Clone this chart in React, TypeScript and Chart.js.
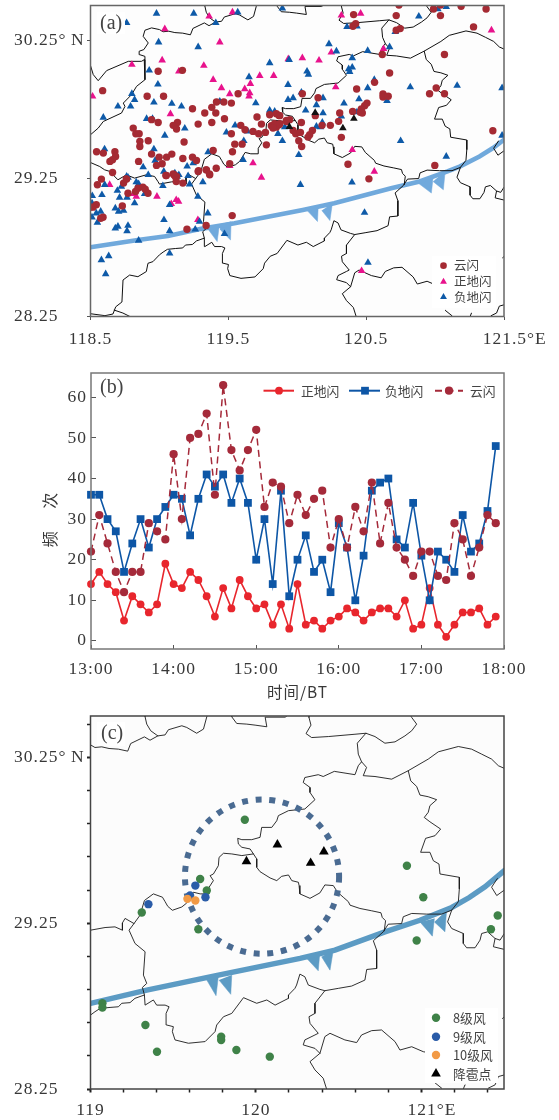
import React, { useEffect, useRef } from "react";
import { Chart, registerables } from "chart.js";
import { drawPoint } from "chart.js/helpers";

Chart.register(...registerables);

type P = number[];

// ---------- county / province boundaries (lon, lat) ----------
const borderNorthWest: P[] = [[118.5,30.065],[118.52,30.0],[118.556,29.956],[118.617,30.029],[118.774,30.096],[118.87,30.096],[118.89,30.108],[118.895,30.132],[118.858,30.144],[118.853,30.169],[118.887,30.181],[118.919,30.229],[118.882,30.277],[118.895,30.321],[118.943,30.338],[119.0,30.326],[119.027,30.31],[119.068,30.314],[119.112,30.304],[119.169,30.30],[119.225,30.288],[119.243,30.334],[119.326,30.374],[119.36,30.354],[119.407,30.38],[119.451,30.386],[119.471,30.417],[119.552,30.441],[119.582,30.431],[119.642,30.396],[119.683,30.421],[119.703,30.495],[119.71,30.51]];
const borderWestSpur: P[] = [[118.89,30.108],[118.895,29.963],[118.834,29.915],[118.798,29.855],[118.738,29.794],[118.75,29.77],[118.725,29.722],[118.593,29.661],[118.556,29.613],[118.5,29.565]];
const borderNorthSpur: P[] = [[119.33,30.51],[119.33,30.495],[119.34,30.451],[119.364,30.411],[119.407,30.38]];
const borderTopBay: P[] = [[119.85,30.51],[119.854,30.495],[119.884,30.455],[119.945,30.451],[119.995,30.445],[120.066,30.435],[120.056,30.493],[120.177,30.493],[120.2,30.51]];
const borderHangzhou: P[] = [[120.321,30.51],[120.321,30.491],[120.333,30.445],[120.303,30.394],[120.337,30.37],[120.438,30.376],[120.599,30.39],[120.665,30.396],[120.613,30.336],[120.619,30.27],[120.639,30.224],[120.619,30.2],[120.599,30.146],[120.474,30.166],[120.407,30.135],[120.377,30.146],[120.296,30.129],[120.286,30.099],[120.327,30.069],[120.327,30.039],[120.357,29.995],[120.296,29.939],[120.236,29.933],[120.197,29.929],[120.136,29.899],[120.126,29.868],[120.096,29.828],[120.035,29.828],[120.025,29.768],[119.975,29.754],[119.915,29.754],[119.89,29.762],[119.894,29.728],[119.915,29.708],[119.965,29.698],[119.985,29.668],[120.005,29.638],[120.005,29.587],[120.025,29.561],[120.086,29.523],[120.126,29.507],[120.156,29.533],[120.197,29.541],[120.217,29.507],[120.257,29.497],[120.261,29.477],[120.266,29.427],[120.327,29.40],[120.387,29.433],[120.417,29.481],[120.468,29.477],[120.494,29.437],[120.528,29.407],[120.559,29.38],[120.569,29.359],[120.629,29.339],[120.7,29.325],[120.756,29.313],[120.764,29.285],[120.784,29.265],[120.776,29.204]];
const borderShaoxing: P[] = [[120.921,30.17],[120.936,30.109],[120.972,30.075],[120.992,30.023],[121.042,30.013],[121.093,29.995],[121.052,29.959],[121.042,29.919],[121.018,29.888],[121.052,29.862],[121.117,29.818],[121.083,29.778],[121.026,29.762],[120.996,29.678],[121.052,29.678],[121.073,29.627],[121.107,29.607],[121.113,29.547],[121.23,29.527],[121.23,29.457],[121.224,29.38],[121.184,29.329],[121.123,29.305],[121.032,29.305],[120.942,29.309],[120.891,29.289],[120.881,29.248],[120.8,29.244],[120.77,29.198],[120.71,29.144],[120.73,29.088],[120.73,28.977],[120.67,28.971],[120.659,28.907],[120.579,28.871],[120.498,28.857],[120.417,28.843],[120.387,28.851],[120.317,28.877],[120.296,28.927],[120.266,28.943],[120.246,28.877],[120.236,28.857],[120.197,28.817],[120.197,28.797],[120.116,28.756],[120.066,28.787],[120.005,28.767],[119.925,28.801],[119.854,28.706],[119.804,28.686],[119.763,28.636],[119.753,28.596],[119.693,28.536],[119.592,28.526],[119.511,28.546],[119.495,28.596],[119.501,28.626],[119.461,28.636],[119.457,28.706],[119.475,28.746],[119.451,28.756],[119.4,28.756],[119.38,28.787],[119.33,28.756],[119.326,28.817],[119.314,28.863],[119.34,28.887],[119.32,28.937],[119.33,29.078],[119.269,29.128],[119.233,29.208],[119.263,29.248],[119.209,29.279],[119.193,29.252],[119.193,29.208],[119.148,29.228],[119.088,29.224],[119.0,29.208],[118.989,29.227],[118.965,29.263],[118.905,29.275],[118.82,29.251],[118.76,29.275],[118.699,29.239],[118.639,29.3],[118.603,29.311],[118.567,29.335],[118.5,29.364]];
const borderSouthWest: P[] = [[119.326,28.817],[119.269,28.797],[119.239,28.771],[119.189,28.767],[119.169,28.746],[119.118,28.742],[119.058,28.736],[119.027,28.716],[119.0,28.696],[118.953,28.647],[118.917,28.635],[118.905,28.575],[118.844,28.538],[118.784,28.55],[118.736,28.514],[118.728,28.355],[118.683,28.32],[118.663,28.268],[118.605,28.256],[118.5,28.27]];
const borderSouthCorner: P[] = [[118.67,28.297],[118.735,28.275],[118.786,28.25]];
const borderJiande: P[] = [[119.263,29.248],[119.3,29.299],[119.326,29.387],[119.38,29.427],[119.435,29.407],[119.451,29.38],[119.467,29.352],[119.495,29.328],[119.552,29.348],[119.582,29.372],[119.622,29.437],[119.663,29.427],[119.717,29.427],[119.717,29.467],[119.743,29.507],[119.723,29.537],[119.743,29.547],[119.773,29.597],[119.777,29.647],[119.804,29.672],[119.854,29.668],[119.915,29.658],[119.985,29.668]];
const borderTopRight: P[] = [[120.665,30.396],[120.72,30.376],[120.78,30.336],[120.841,30.344],[120.901,30.38],[120.942,30.411],[120.972,30.451],[120.942,30.491],[120.93,30.51]];
const borderBayShore: P[] = [[120.639,30.224],[120.669,30.19],[120.649,30.14],[120.72,30.135],[120.821,30.119],[120.921,30.17],[121.042,30.24],[121.103,30.284],[121.224,30.316],[121.304,30.3],[121.365,30.27],[121.425,30.24],[121.466,30.2],[121.502,30.184]];
const borderEast: P[] = [[121.184,29.329],[121.159,29.258],[121.184,29.218],[121.254,29.188],[121.254,29.128],[121.274,29.102],[121.325,29.102],[121.355,29.148],[121.365,29.188],[121.401,29.198],[121.446,29.158],[121.436,29.108],[121.502,29.092]];
const borderEastCoast: P[] = [[121.446,29.158],[121.476,29.148],[121.502,29.188]];
const borderNingbo: P[] = [[121.46,29.52],[121.425,29.467],[121.456,29.417],[121.502,29.45]];
const borderSouth: P[] = [[120.417,28.843],[120.357,28.767],[120.357,28.706],[120.321,28.686],[120.327,28.646],[120.377,28.586],[120.357,28.576],[120.296,28.546],[120.286,28.516],[120.357,28.495],[120.387,28.465],[120.327,28.415],[120.357,28.365],[120.407,28.315],[120.428,28.248]];
const borderSouthEast: P[] = [[120.387,28.465],[120.417,28.566],[120.448,28.586],[120.538,28.546],[120.609,28.53],[120.639,28.576],[120.7,28.602],[120.76,28.606],[120.841,28.536],[120.871,28.485],[120.942,28.505],[121.012,28.475],[121.083,28.461]];
const borderBits1: P[] = [[121.073,28.295],[121.123,28.255]];
const borderBits2: P[] = [[121.264,28.275],[121.254,28.25]];
const borderBits3: P[] = [[121.405,28.255],[121.446,28.275],[121.466,28.325],[121.502,28.335]];
const borderBits4: P[] = [[121.49,28.675],[121.502,28.686]];
const allBorders = [borderNorthWest, borderWestSpur, borderNorthSpur, borderTopBay, borderHangzhou, borderShaoxing, borderSouthWest, borderSouthCorner, borderJiande, borderTopRight, borderBayShore, borderEast, borderEastCoast, borderNingbo, borderSouth, borderSouthEast, borderBits1, borderBits2, borderBits3, borderBits4];

// ---------- panel (a): lightning locations ----------
const cloudFlash: P[] = [[119.167,30.031],[118.991,30.024],[118.588,29.884],[118.911,29.843],[119.03,29.843],[119.571,29.862],[119.414,29.802],[119.467,29.802],[119.522,29.794],[119.24,29.753],[119.38,29.763],[119.329,29.722],[119.409,29.722],[119.708,29.693],[119.472,29.681],[119.8,29.71],[119.848,29.717],[119.868,29.705],[118.943,29.674],[118.991,29.654],[119.131,29.654],[119.10,29.633],[119.124,29.606],[119.281,29.642],[119.38,29.654],[119.74,29.642],[118.81,29.613],[119.59,29.633],[119.621,29.601],[118.829,29.572],[118.853,29.572],[119.679,29.589],[119.72,29.572],[119.769,29.582],[119.522,29.572],[118.919,29.521],[119.179,29.512],[118.858,29.517],[118.858,29.48],[119.547,29.497],[119.6,29.497],[119.776,29.492],[118.544,29.442],[118.593,29.432],[118.677,29.442],[118.682,29.408],[118.66,29.384],[118.641,29.372],[118.943,29.425],[119.39,29.451],[119.53,29.442],[118.998,29.403],[119.052,29.403],[119.09,29.425],[119.17,29.393],[119.24,29.403],[119.269,29.379],[118.849,29.372],[118.979,29.343],[119.02,29.355],[119.51,29.355],[118.66,29.292],[119.281,29.299],[119.341,29.311],[119.365,29.275],[118.762,29.244],[119.047,29.27],[119.1,29.282],[119.124,29.263],[119.812,29.63],[119.829,29.625],[119.848,29.62],[119.868,29.637],[119.836,29.645],[119.824,29.613],[119.921,29.661],[120.738,30.504],[120.409,30.434],[120.718,30.427],[120.989,30.475],[121.039,30.427],[121.039,30.504],[121.189,30.495],[121.37,30.475],[120.404,30.35],[120.424,30.369],[120.718,30.321],[120.747,30.333],[121.279,30.345],[120.617,30.145],[121.068,30.145],[120.67,30.012],[120.561,29.944],[120.431,29.896],[120.622,29.86],[120.622,29.838],[120.66,29.843],[121.008,29.903],[120.96,29.862],[121.068,29.862],[120.151,29.833],[120.037,29.862],[120.506,29.794],[120.489,29.775],[120.465,29.751],[120.457,29.727],[120.472,29.722],[120.402,29.734],[120.308,29.722],[120.30,29.662],[120.24,29.633],[120.18,29.633],[120.131,29.703],[120.03,29.654],[119.873,29.703],[119.945,29.674],[119.921,29.669],[119.873,29.645],[119.97,29.596],[119.989,29.572],[120.023,29.582],[120.011,29.521],[120.032,29.48],[120.11,29.596],[120.09,29.565],[120.078,29.548],[120.32,29.546],[121.419,29.594],[120.368,29.352],[120.998,29.343],[120.52,29.246],[118.579,29.244],[118.55,29.203],[118.76,29.246],[118.74,29.215],[118.772,29.142],[118.844,29.178],[118.827,29.154],[118.88,29.186],[118.897,29.171],[118.917,29.142],[118.731,29.05],[118.542,29.058],[118.518,29.041],[118.5,29.041],[118.591,28.968],[118.574,28.961],[119.05,29.27],[119.105,29.275],[119.115,29.263],[119.122,29.227],[119.17,29.215],[119.2,28.881],[119.339,28.908],[119.528,28.98],[119.339,29.311],[119.363,29.282],[119.412,29.323],[119.284,29.304]];
const positiveFlash: P[] = [[119.361,30.422],[119.53,30.451],[119.039,30.33],[119.438,30.234],[119.02,30.104],[118.80,30.072],[119.322,30.065],[119.141,30.024],[119.935,30.113],[119.728,29.992],[119.829,29.992],[119.39,29.963],[119.66,29.934],[119.45,29.903],[119.51,29.86],[119.619,29.896],[118.515,29.843],[119.655,29.867],[119.65,29.843],[119.08,29.715],[119.679,29.36],[119.51,29.34],[119.74,29.256],[120.32,30.429],[120.46,30.442],[121.409,30.321],[120.037,30.12],[120.158,30.103],[120.247,30.161],[120.626,30.186],[120.279,29.91],[120.399,29.456],[120.559,29.299],[118.639,29.203],[118.813,29.137],[118.832,29.118],[118.982,29.118],[119.086,29.065],[119.122,29.094],[119.139,29.082],[119.279,28.949],[120.467,28.58]];
const negativeFlash: P[] = [[118.979,30.442],[119.249,30.442],[118.762,30.374],[119.409,30.374],[119.568,30.451],[119.892,30.48],[118.994,30.234],[119.281,30.2],[119.8,30.084],[118.926,30.031],[118.989,29.93],[119.65,29.983],[119.933,29.927],[118.80,29.862],[118.82,29.818],[118.699,29.77],[118.791,29.77],[118.96,29.799],[119.09,29.79],[119.16,29.77],[119.699,29.794],[119.438,29.806],[119.933,29.818],[119.8,29.741],[119.836,29.734],[118.907,29.681],[118.95,29.681],[118.593,29.69],[119.184,29.611],[119.549,29.633],[119.039,29.56],[119.486,29.582],[119.641,29.589],[119.86,29.572],[119.909,29.62],[119.612,29.521],[119.892,29.521],[118.602,29.461],[118.96,29.461],[119.353,29.439],[118.969,29.379],[118.882,29.331],[119.607,29.384],[119.245,29.36],[119.201,29.336],[119.032,29.299],[118.762,29.263],[118.919,29.275],[119.112,29.287],[119.141,29.275],[119.208,29.268],[119.941,30.108],[121.081,30.49],[121.02,30.475],[120.882,30.422],[120.361,30.345],[120.433,30.35],[120.711,30.309],[120.67,30.2],[120.23,30.222],[120.284,30.169],[120.511,30.173],[120.399,30.12],[120.373,30.041],[120.399,30.053],[120.38,30.021],[120.071,30.024],[120.081,30.0],[120.559,29.963],[120.511,29.903],[120.82,29.91],[121.16,29.92],[121.486,29.903],[120.187,29.831],[119.97,29.831],[120.03,29.872],[120.651,29.811],[120.448,29.823],[120.339,29.792],[120.139,29.78],[120.061,29.741],[120.187,29.722],[120.32,29.698],[120.433,29.729],[120.139,29.625],[120.168,29.62],[120.182,29.654],[120.011,29.42],[120.75,29.521],[121.081,29.408],[121.486,29.56],[118.603,29.203],[118.724,29.19],[118.772,29.256],[118.832,29.222],[118.849,29.21],[118.695,29.161],[118.583,29.13],[118.711,29.111],[118.765,29.111],[118.82,29.07],[118.513,29.123],[118.511,29.07],[118.68,29.033],[118.704,29.01],[118.74,29.017],[118.574,29.01],[118.542,28.997],[118.511,28.968],[118.55,28.93],[118.893,29.137],[119.025,29.195],[119.074,29.058],[119.033,28.949],[118.699,28.901],[118.68,28.889],[118.772,28.908],[118.765,28.869],[119.074,28.869],[119.26,28.881],[119.279,29.118],[119.351,28.997],[119.315,29.222],[118.849,28.8],[119.472,28.848],[119.074,28.707],[118.579,28.659],[118.632,28.688],[118.61,28.558],[120.023,29.203],[119.219,29.207],[119.129,29.263],[119.291,28.937],[120.397,29.22],[120.488,29.002],[120.513,28.64]];
const hailPoints: P[] = [[119.943,29.623],[120.13,29.724],[120.331,29.613],[120.411,29.682]];

// ---------- fronts ----------
const frontLineA: P[] = [[118.5,28.751],[118.844,28.804],[119.061,28.833],[119.303,28.884],[119.545,28.925],[120.04,29.021],[120.268,29.07],[120.681,29.178],[120.888,29.227],[121.09,29.30],[121.178,29.335],[121.322,29.408],[121.42,29.469],[121.5,29.529]];
const frontBarbsA: P[][] = [
  [[119.339,28.901],[119.419,28.792],[119.436,28.92]],
  [[119.443,28.92],[119.443,28.876],[119.516,28.804],[119.52,28.937]],
  [[120.062,29.027],[120.147,28.937],[120.152,29.046]],
  [[120.178,29.017],[120.237,28.944],[120.255,29.07]],
  [[120.862,29.227],[120.973,29.143],[120.985,29.251]],
  [[120.985,29.227],[121.06,29.167],[121.073,29.3]],
];
const frontLineC: P[] = [[119.0,28.767],[119.34,28.847],[119.773,28.937],[120.267,29.038],[120.478,29.088],[120.78,29.198],[120.992,29.268],[121.184,29.345],[121.29,29.405],[121.385,29.47],[121.502,29.567]];
const frontBarbsC: P[][] = [
  [[119.703,28.907],[119.759,28.813],[119.773,28.931]],
  [[119.777,28.907],[119.848,28.821],[119.854,28.937]],
  [[120.307,29.038],[120.377,28.963],[120.387,29.078]],
  [[120.397,29.048],[120.448,28.967],[120.468,29.088]],
  [[120.992,29.258],[121.067,29.172],[121.079,29.279]],
  [[121.079,29.258],[121.143,29.198],[121.153,29.329]],
];

// ---------- panel (b): counts every 6 minutes ----------
const positiveCounts = [14,17,14,12,5,11,9,7,9,19,14,13,17,15,11,6,13,8,15,11,8,9,4,9,3,14,4,5,3,5,6,8,7,5,7,8,8,6,10,3,4,13,4,1,4,7,7,8,4,6];
const negativeCounts = [36,36,30,27,17,24,30,23,30,33,36,35,26,35,41,38,41,34,40,34,20,30,14,37,11,20,26,17,20,12,29,23,10,21,37,39,40,25,23,34,21,10,22,20,17,31,22,24,32,48];
const cloudCounts = [22,31,24,17,12,17,17,29,27,25,46,30,50,51,56,36,63,47,42,47,52,33,39,38,29,36,31,35,37,23,30,23,33,27,39,24,34,23,20,16,22,22,16,15,29,25,16,23,31,29];
const timeTickLabels = ["13:00","14:00","15:00","16:00","17:00","18:00"];
const timeTickSlots = [0,10,20,30,40,50];
const countTicks = [0,10,20,30,40,50,60];

// ---------- panel (c): strong wind and hail ----------
const wind8: P[] = [[119.933,29.874],[119.663,29.517],[119.703,29.447],[120.913,29.597],[121.012,29.407],[119.31,29.315],[119.652,29.214],[119.072,28.767],[119.072,28.742],[119.332,28.636],[119.402,28.475],[119.79,28.566],[119.79,28.546],[119.882,28.485],[120.084,28.445],[120.972,29.146],[121.421,29.214],[121.462,29.297]];
const wind9: P[] = [[119.634,29.477],[119.695,29.407],[119.602,29.417],[119.35,29.365]];
const wind10: P[] = [[119.586,29.397],[119.634,29.387]];
const ringCentre = [120.037, 29.531];
const ringRadiusDeg = 0.466;

// ---------- axis ticks ----------
const lonTicksA = [118.5,119.5,120.5,121.5];
const lonLabelsA = ["118.5","119.5","120.5","\u00A0\u00A0\u00A0\u00A0121.5°E"];
const latTicksA = [28.25,29.25,30.25];
const latLabels = ["28.25","29.25","30.25°\u2009N"];
const lonTicksC = [119,119.2,119.4,119.6,119.8,120,120.2,120.4,120.6,120.8,121,121.2,121.4];
const lonLabelsC: Record<string,string> = { "119":"119", "120":"120", "121":"\u00A0\u00A0\u00A0\u00A0121°E" };
const latTicksC = [28.25,28.45,28.65,28.85,29.05,29.25,29.45,29.65,29.85,30.05,30.25,30.45];

const FONT = '"Liberation Serif","Noto Sans CJK SC",serif';
const CJK = '"Noto Sans CJK SC","Liberation Serif",sans-serif';
const TICK_COLOR = "#383838";

const pts = (a: P[]) => a.map(([x, y]) => ({ x, y }));
const series = (a: number[]) => a.map((y, x) => ({ x, y }));

type KeyRow = { label: string; x: number; y: number; textX: number; lineFrom?: number; lineTo?: number };
type Decor = {
  tag: string; tagX: number; tagY: number; tagBox: number[];
  keyBox?: number[]; rows: KeyRow[]; keyFont: number; keyScale?: number;
  ring?: boolean; plotBg: string; frame: string;
};

function decorPlugin(d: Decor) {
  return {
    id: "decor",
    beforeDraw(chart: any) {
      const { ctx, chartArea: a } = chart;
      ctx.fillStyle = d.plotBg;
      ctx.fillRect(a.left, a.top, a.width, a.height);
      (ctx as any).letterSpacing = "1px";
    },
    afterDatasetDraw(chart: any, args: any) {
      if (!d.ring) return;
      if (chart.data.datasets[args.index].label !== "ring") return;
      const { ctx, scales } = chart;
      const cx = scales.x.getPixelForValue(ringCentre[0]);
      const cy = scales.y.getPixelForValue(ringCentre[1]);
      const r = Math.abs(scales.x.getPixelForValue(ringCentre[0] + ringRadiusDeg) - cx);
      ctx.save();
      ctx.strokeStyle = "#4a6b92";
      ctx.lineWidth = 6;
      ctx.setLineDash([6, 7.7]);
      ctx.beginPath();
      ctx.arc(cx, cy, r, 0, Math.PI * 2);
      ctx.stroke();
      ctx.restore();
    },
    afterDraw(chart: any) {
      const { ctx, chartArea: a } = chart;
      ctx.save();
      (ctx as any).letterSpacing = "0px";
      ctx.strokeStyle = d.frame;
      ctx.lineWidth = 1.5;
      ctx.strokeRect(a.left, a.top, a.width, a.height);
      ctx.fillStyle = "#ffffff";
      ctx.fillRect(d.tagBox[0], d.tagBox[1], d.tagBox[2], d.tagBox[3]);
      ctx.fillStyle = "#444";
      ctx.font = `20px ${FONT}`;
      ctx.textBaseline = "middle";
      ctx.textAlign = "left";
      ctx.fillText(d.tag, d.tagX, d.tagY);
      if (d.keyBox) {
        ctx.fillStyle = "#ffffff";
        ctx.fillRect(d.keyBox[0], d.keyBox[1], d.keyBox[2], d.keyBox[3]);
      }
      for (const row of d.rows) {
        const ds = chart.data.datasets.find((s: any) => s.label === row.label);
        if (row.lineFrom !== undefined) {
          ctx.save();
          ctx.strokeStyle = ds.borderColor;
          ctx.lineWidth = 2;
          ctx.setLineDash(ds.borderDash || []);
          ctx.beginPath();
          ctx.moveTo(row.lineFrom, row.y);
          ctx.lineTo(row.lineTo, row.y);
          ctx.stroke();
          ctx.restore();
        }
        ctx.fillStyle = ds.pointBackgroundColor;
        ctx.strokeStyle = ds.pointBackgroundColor;
        ctx.beginPath();
        drawPoint(ctx, { pointStyle: ds.pointStyle, rotation: 0, radius: ds.pointRadius * (d.keyScale ?? 1), borderWidth: 0 }, row.x, row.y);
        ctx.fillStyle = "#444";
        ctx.font = `${d.keyFont}px ${CJK}`;
        ctx.textAlign = "left";
        ctx.textBaseline = "middle";
        ctx.fillText(row.label, row.textX, row.y);
      }
      ctx.restore();
    },
  };
}

const markers = (label: string, data: P[], color: string, style: string, radius: number, order: number) => ({
  label, data: pts(data), showLine: false, pointStyle: style, pointRadius: radius, pointHoverRadius: radius,
  pointBackgroundColor: color, pointBorderWidth: 0, order,
});
const lineDs = (label: string, data: P[], color: string, width: number, order: number) => ({
  label, data: pts(data), showLine: true, borderColor: color, borderWidth: width, pointRadius: 0, tension: 0, fill: false, order, borderCapStyle: "round",
});
const polyDs = (label: string, data: P[], color: string, order: number) => ({
  label, data: pts(data), showLine: true, borderColor: color, backgroundColor: color, borderWidth: 0.5, pointRadius: 0, tension: 0, fill: "shape", order,
});

function fixedX(h: number, min: number, max: number, values: number[], label: (v: number) => string, tl: number, pad: number, tickW: any, tickC: string, title?: any) {
  return {
    type: "linear", min, max, bounds: "data",
    afterFit: (s: any) => { s.height = h; s.paddingLeft = 0; s.paddingRight = 0; },
    afterBuildTicks: (s: any) => { s.ticks = values.map((value) => ({ value })); },
    border: { display: false },
    grid: { drawOnChartArea: false, drawTicks: true, tickLength: tl, tickColor: tickC, tickWidth: tickW },
    title,
    ticks: { autoSkip: false, maxRotation: 0, minRotation: 0, padding: pad, color: TICK_COLOR, font: { family: FONT, size: 17.5 }, callback: (v: any) => label(v) },
  };
}
function fixedY(w: number, min: number, max: number, values: number[], label: (v: number) => string, tl: number, pad: number, crossAlign: string, tickW: any, tickC: string, title?: any) {
  return {
    type: "linear", min, max, bounds: "data",
    afterFit: (s: any) => { s.width = w; s.paddingTop = 0; s.paddingBottom = 0; },
    afterBuildTicks: (s: any) => { s.ticks = values.map((value) => ({ value })); },
    border: { display: false },
    grid: { drawOnChartArea: false, drawTicks: true, tickLength: tl, tickColor: tickC, tickWidth: tickW },
    title,
    ticks: { autoSkip: false, padding: pad, crossAlign, color: TICK_COLOR, font: { family: FONT, size: 17.5 }, callback: (v: any) => label(v) },
  };
}

const baseOptions = (padding: any, scales: any) => ({
  responsive: false, animation: false as const, events: [] as string[],
  layout: { padding },
  plugins: { legend: { display: false }, tooltip: { enabled: false }, title: { display: false } },
  scales,
});

function panelA() {
  const datasets: any[] = [
    markers("降雹点", hailPoints, "#111111", "triangle", 4.4, 0),
    markers("云闪", cloudFlash, "#a52a33", "circle", 3.7, 1),
    markers("正地闪", positiveFlash, "#e8128c", "triangle", 4.4, 3),
    markers("负地闪", negativeFlash, "#0e5aa8", "triangle", 4.4, 2),
    ...allBorders.map((b, i) => lineDs(`边界${i}`, b, "#111111", 1, 5)),
    lineDs("锋面", frontLineA, "#70a9dc", 4.6, 6),
    ...frontBarbsA.map((b, i) => polyDs(`锋面符号${i}`, b, "#70a9dc", 6)),
  ];
  return {
    type: "scatter", data: { datasets },
    options: baseOptions({ left: 14, right: 55, top: 5.5, bottom: 0 }, {
      x: fixedX(43.5, 118.5, 121.5, lonTicksA, (v) => lonLabelsA[lonTicksA.indexOf(v)] ?? "", 3.5, 9, 1, "#555"),
      y: fixedY(76.5, 28.25, 30.5, latTicksA, (v) => latLabels[latTicksA.indexOf(v)] ?? "", 3.5, 7, "far", 1, "#555"),
    }),
    plugins: [decorPlugin({
      tag: "(a)", tagX: 100, tagY: 24, tagBox: [97, 12, 28, 22],
      keyBox: [432, 256, 64, 52], keyFont: 12.5, keyScale: 0.9,
      rows: [
        { label: "云闪", x: 443.5, y: 265.7, textX: 454 },
        { label: "正地闪", x: 443.5, y: 281.7, textX: 454 },
        { label: "负地闪", x: 443.5, y: 297, textX: 454 },
      ],
      plotBg: "#fdfdfd", frame: "#666666",
    })],
  };
}

function panelB() {
  const datasets: any[] = [
    { label: "正地闪", data: series(positiveCounts), showLine: true, clip: false, borderColor: "#e8262d", borderWidth: 1.6, pointStyle: "circle", pointRadius: 3.9, pointBackgroundColor: "#e8262d", pointBorderWidth: 0, tension: 0, order: 3 },
    { label: "负地闪", data: series(negativeCounts), showLine: true, clip: false, borderColor: "#0d56a6", borderWidth: 1.6, pointStyle: "rect", pointRadius: 5.5, pointBackgroundColor: "#0d56a6", pointBorderWidth: 0, tension: 0, order: 2 },
    { label: "云闪", data: series(cloudCounts), showLine: true, clip: false, borderColor: "#a52a3a", borderWidth: 1.5, borderDash: [7, 4.5], pointStyle: "circle", pointRadius: 4.1, pointBackgroundColor: "#a52a3a", pointBorderWidth: 0, tension: 0, order: 1 },
  ];
  return {
    type: "scatter", data: { datasets },
    options: baseOptions({ left: 14, right: 55, top: 13, bottom: 0 }, {
      x: fixedX(56, 0, 50, timeTickSlots, (v) => timeTickLabels[timeTickSlots.indexOf(v)] ?? "", -4, 14, 1, "#555", {
        display: true, text: "时间/BT", color: "#383838", font: { family: CJK, size: 15.5 }, padding: { top: 0, bottom: 4 },
      }),
      y: fixedY(77, -2, 66, countTicks, (v) => String(v), -5, 9, "near", 1, "#555", {
        display: true, text: "频\u3000 次\u3000", color: "#383838", font: { family: CJK, size: 16 }, padding: { top: 26, bottom: 0 },
      }),
    }),
    plugins: [decorPlugin({
      tag: "(b)", tagX: 100, tagY: 28, tagBox: [0, 0, 0, 0],
      keyFont: 12.8,
      rows: [
        { label: "正地闪", x: 279, y: 30.7, textX: 301, lineFrom: 263.5, lineTo: 294 },
        { label: "负地闪", x: 365, y: 30.7, textX: 385, lineFrom: 349, lineTo: 380 },
        { label: "云闪", x: 449, y: 30.7, textX: 470, lineFrom: 435, lineTo: 463 },
      ],
      plotBg: "#ffffff", frame: "#777777",
    })],
  };
}

function panelC() {
  const datasets: any[] = [
    markers("降雹点", hailPoints, "#000000", "triangle", 5.6, 0),
    markers("10级风", wind10, "#f29a45", "circle", 4.2, 1),
    markers("9级风", wind9, "#2a5ca8", "circle", 4.2, 2),
    markers("8级风", wind8, "#3f8248", "circle", 4.2, 3),
    { label: "ring", data: [], showLine: false, order: 4 },
    ...allBorders.map((b, i) => lineDs(`边界${i}`, b, "#1a1a1a", 0.9, 5)),
    lineDs("锋面", frontLineC, "#5c9bc4", 5.4, 6),
    ...frontBarbsC.map((b, i) => polyDs(`锋面符号${i}`, b, "#5c9bc4", 6)),
  ];
  return {
    type: "scatter", data: { datasets },
    options: baseOptions({ left: 14, right: 55, top: 11, bottom: 0 }, {
      x: fixedX(31, 119, 121.5, lonTicksC, (v) => lonLabelsC[String(v)] ?? "", 3.5, 7, (c: any) => (c.tick && c.tick.label ? 2 : 1.5), "#222"),
      y: fixedY(76.5, 28.25, 30.5, latTicksC, (v) => (latTicksA.includes(v) ? latLabels[latTicksA.indexOf(v)] : ""), 3.5, 7, "far", (c: any) => (c.tick && c.tick.label ? 2 : 1.5), "#222"),
    }),
    plugins: [decorPlugin({
      tag: "(c)", tagX: 101, tagY: 29, tagBox: [97, 17, 28, 24],
      keyBox: [425, 303, 73, 75], keyFont: 12.8,
      rows: [
        { label: "8级风", x: 436, y: 312.7, textX: 453 },
        { label: "9级风", x: 436, y: 331.7, textX: 453 },
        { label: "10级风", x: 436, y: 350, textX: 453 },
        { label: "降雹点", x: 436, y: 368.7, textX: 453 },
      ],
      ring: true, plotBg: "#fcfcfc", frame: "#444444",
    })],
  };
}

export default function App() {
  const a = useRef<HTMLCanvasElement>(null);
  const b = useRef<HTMLCanvasElement>(null);
  const c = useRef<HTMLCanvasElement>(null);
  useEffect(() => {
    const charts = [
      new Chart(a.current as any, panelA() as any),
      new Chart(b.current as any, panelB() as any),
      new Chart(c.current as any, panelC() as any),
    ];
    return () => charts.forEach((ch) => ch.destroy());
  }, []);
  const abs = (top: number): React.CSSProperties => ({ position: "absolute", left: 0, top, display: "block" });
  return (
    <div style={{ position: "absolute", left: 0, top: 0, width: 559, height: 1120, background: "#fff" }}>
      <canvas ref={a} width={559} height={360} style={abs(0)} />
      <canvas ref={b} width={559} height={345} style={abs(360)} />
      <canvas ref={c} width={559} height={415} style={abs(705)} />
    </div>
  );
}
